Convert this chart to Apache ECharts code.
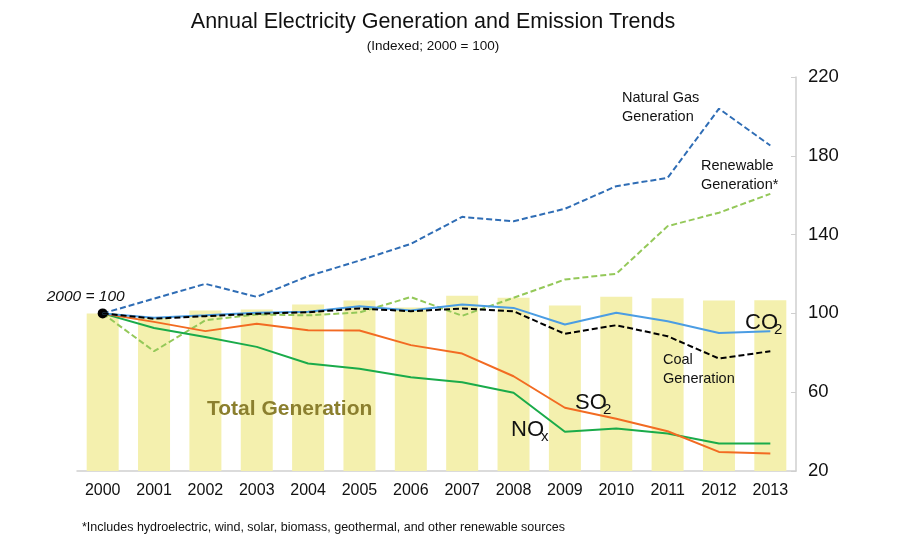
<!DOCTYPE html>
<html>
<head>
<meta charset="utf-8">
<script src="https://cdn.jsdelivr.net/npm/echarts@6/dist/echarts.min.js"></script>
<style>
  html, body { margin: 0; padding: 0; background: #fff; }
  #chart { width: 910px; height: 542px; }
</style>
</head>
<body>
<div id="chart"></div>
<script>
const years     = ['2000','2001','2002','2003','2004','2005','2006','2007','2008','2009','2010','2011','2012','2013'];
const totalGen  = [100, 98, 101.5, 102, 104.5, 106.5, 103, 109, 108, 104, 108.5, 107.7, 106.5, 106.7];
const natGas    = [100, 107.5, 115, 108.4, 118.9, 126.8, 135.3, 149, 146.8, 153.1, 164.6, 168.8, 203.9, 185.2];
const renewable = [100, 80.8, 96.5, 99.5, 99, 100.5, 108.3, 98.8, 107.9, 117.2, 120.1, 144.3, 151.1, 160.7];
const co2       = [100, 97.8, 99, 100.3, 100.8, 103.6, 101.5, 104.5, 102.8, 94.4, 100.3, 96, 90.1, 91];
const coal      = [100, 97.3, 98.6, 99.8, 100.6, 102.5, 101.1, 102.5, 101.1, 89.6, 94, 88.4, 77.1, 80.8];
const so2       = [100, 95.7, 91, 94.7, 91.5, 91.3, 83.9, 79.6, 68.1, 52.1, 46.5, 40.2, 29.7, 28.9];
const nox       = [100, 92.6, 88, 83, 74.6, 71.9, 67.6, 65.1, 59.7, 39.9, 41.6, 39, 34, 34];

const sans = '"Liberation Sans", Arial, sans-serif';

function line(name, data, color, dashed, z) {
    return {
        name: name,
        type: 'line',
        data: data,
        symbol: 'none',
        z: z,
        lineStyle: { color: color, width: 2, type: dashed ? [6, 3] : 'solid' },
        emphasis: { disabled: true }
    };
}

function txt(x, y, text, size, opts) {
    return {
        type: 'text', left: x, top: y, z: 100,
        style: Object.assign({
            text: text, fill: '#111', font: size + 'px ' + sans, lineHeight: size + 5
        }, opts || {})
    };
}

const chart = echarts.init(document.getElementById('chart'));
const co2Series = line('CO2', co2, '#4b9de3', false, 6);
co2Series.markPoint = {
    symbol: 'circle',
    symbolSize: 10,
    itemStyle: { color: '#000' },
    label: {
        show: true, position: 'inside', formatter: '2000 = 100',
        color: '#111', fontSize: 15.5, fontStyle: 'italic', fontFamily: sans,
        offset: [-17, -17]
    },
    data: [{ coord: ['2000', 100] }]
};

chart.setOption({
    animation: false,
    title: {
        text: 'Annual Electricity Generation and Emission Trends',
        subtext: '(Indexed; 2000 = 100)',
        left: 428, top: 6, textAlign: 'center', itemGap: 6,
        textStyle: { fontSize: 21.5, fontWeight: 'normal', color: '#111', fontFamily: sans },
        subtextStyle: { fontSize: 13.5, color: '#111', fontFamily: sans }
    },
    grid: { left: 77, right: 114, top: 77, bottom: 71 },
    xAxis: {
        type: 'category',
        data: years,
        axisLine: { lineStyle: { color: '#cfcfcf', width: 1.5 } },
        axisTick: { show: false },
        axisLabel: { color: '#111', fontSize: 16, fontFamily: sans, margin: 12 }
    },
    yAxis: {
        type: 'value',
        position: 'right',
        min: 20, max: 220, interval: 40,
        splitLine: { show: false },
        axisLine: { show: true, lineStyle: { color: '#cfcfcf', width: 1.5 } },
        axisTick: { show: true, inside: true, length: 5, lineStyle: { color: '#cfcfcf' } },
        axisLabel: { color: '#111', fontSize: 18.5, fontFamily: sans, margin: 12 }
    },
    series: [
        {
            name: 'Total Generation', type: 'bar', data: totalGen,
            barWidth: 32, z: 1,
            itemStyle: { color: '#f4f0ae' },
            emphasis: { disabled: true }
        },
        line('Natural Gas Generation', natGas, '#2f6db5', true, 3),
        line('Renewable Generation', renewable, '#94c859', true, 3),
        line('NOx', nox, '#1aab4a', false, 4),
        line('SO2', so2, '#f26b22', false, 4),
        co2Series,
        line('Coal Generation', coal, '#000', true, 7)
    ],
    graphic: [
        txt(622, 88, 'Natural Gas\nGeneration', 14.5),
        txt(701, 156, 'Renewable\nGeneration*', 14.5),
        txt(663, 350, 'Coal\nGeneration', 14.5),
        txt(745, 309, 'CO', 22),
        txt(774, 320, '2', 15),
        txt(575, 389, 'SO', 22),
        txt(603, 400, '2', 15),
        txt(511, 416, 'NO', 22),
        txt(541, 427, 'x', 15),
        txt(207, 396, 'Total Generation', 21, { fill: '#8b7f2e', font: 'bold 21px ' + sans }),
        txt(82, 519, '*Includes hydroelectric, wind, solar, biomass, geothermal, and other renewable sources', 12.5, { font: '12.5px ' + sans })
    ]
});
</script>
</body>
</html>
